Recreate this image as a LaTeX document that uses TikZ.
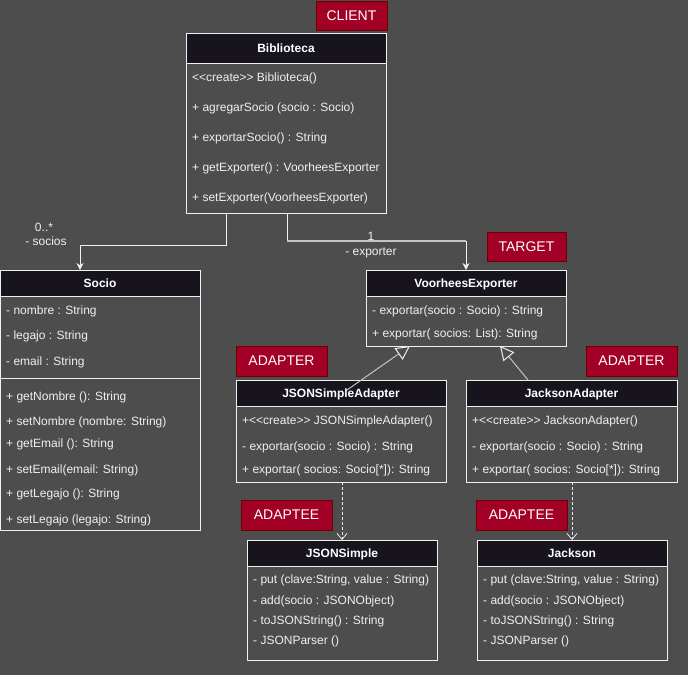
\documentclass[tikz,border=0pt]{standalone}
\usepackage{fontspec}
\setmainfont{Liberation Sans}
\usetikzlibrary{arrows.meta,calc}
\definecolor{bg}{HTML}{4D4D4D}
\definecolor{hdr}{HTML}{18141D}
\definecolor{tag}{HTML}{A20025}
\definecolor{tagb}{HTML}{6F0000}
\definecolor{txt}{HTML}{F0F0F0}
\definecolor{lgray}{HTML}{C4C4C4}
\newcommand\dlt{<\kern0pt<}
\newcommand\dgt{>\kern0pt>}
\tikzset{
  classbox/.style={draw=txt, line width=1pt, fill=bg, anchor=north west, inner sep=0pt, outer sep=0pt},
  hdrbox/.style={draw=txt, line width=1pt, fill=hdr, anchor=north west, inner sep=0pt, outer sep=0pt, text=white, font=\bfseries\fontsize{12}{14}\selectfont},
  mem/.style={anchor=west, text=txt, font=\fontsize{12}{14}\selectfont, inner sep=0pt, yshift=-1.5pt},
  lbl/.style={text=txt, font=\fontsize{12}{14}\selectfont, inner sep=0pt, yshift=-1.5pt},
  tagbox/.style={draw=tagb, fill=tag, text=white, font=\fontsize{14}{16}\selectfont, line width=1pt, anchor=north west, inner sep=0pt, outer sep=0pt, minimum width=91pt, minimum height=30pt},
  assoc/.style={draw=txt, line width=1pt, -{Stealth[length=7pt,width=7pt]}},
  inh/.style={draw=lgray, line width=1pt, -{Triangle[open,length=14pt,width=14pt,fill=bg,color=txt]}},
  dep/.style={draw=txt, line width=0.8pt, dashed, dash pattern=on 3pt off 2pt, -{Straight Barb[length=6pt,width=10pt,line width=0.8pt]}},
}
\begin{document}
\begin{tikzpicture}[x=1pt,y=-1pt]
\fill[bg] (0,0) rectangle (688,675);
\useasboundingbox (0,0) rectangle (688,675);

% Biblioteca
\node[classbox, minimum width=200pt, minimum height=180pt] (bib) at (186,33) {};
\node[hdrbox, minimum width=200pt, minimum height=30pt, text depth=0pt] (bibh) at (186,33) {Biblioteca};
\node[mem] (bib1) at (192,77) {\dlt create\dgt{} Biblioteca()};
\node[mem] (bib2) at (192,107) {+ agregarSocio (socio : Socio)};
\node[mem] (bib3) at (192,137) {+ exportarSocio() : String};
\node[mem] (bib4) at (192,167) {+ getExporter() : VoorheesExporter};
\node[mem] (bib5) at (192,197) {+ setExporter(VoorheesExporter)};

% Socio
\node[classbox, minimum width=200pt, minimum height=260pt] (socio) at (0,270) {};
\node[hdrbox, minimum width=200pt, minimum height=26pt, text depth=0pt] (socioh) at (0,270) {Socio};
\node[mem] (so1) at (6,310) {- nombre : String};
\node[mem] (so2) at (6,335) {- legajo : String};
\node[mem] (so3) at (6,361) {- email : String};
\draw[draw=txt, line width=1pt] ($(socio.north west)+(0,108)$) -- ($(socio.north east)+(0,108)$);
\node[mem] (so4) at (6,396) {+ getNombre (): String};
\node[mem] (so5) at (6,421) {+ setNombre (nombre: String)};
\node[mem] (so6) at (6,443) {+ getEmail (): String};
\node[mem] (so7) at (6,469) {+ setEmail(email: String)};
\node[mem] (so8) at (6,493) {+ getLegajo (): String};
\node[mem] (so9) at (6,519) {+ setLegajo (legajo: String)};

% VoorheesExporter
\node[classbox, minimum width=200pt, minimum height=76pt] (ve) at (366,270) {};
\node[hdrbox, minimum width=200pt, minimum height=26pt, text depth=0pt] (veh) at (366,270) {VoorheesExporter};
\node[mem] (ve1) at (372,310) {- exportar(socio : Socio) : String};
\node[mem] (ve2) at (372,333) {+ exportar( socios: List): String};

% JSONSimpleAdapter
\node[classbox, minimum width=210pt, minimum height=102pt] (jsa) at (236,380) {};
\node[hdrbox, minimum width=210pt, minimum height=26pt, text depth=0pt] (jsah) at (236,380) {JSONSimpleAdapter};
\node[mem] (jsa1) at (242,420) {+\dlt create\dgt{} JSONSimpleAdapter()};
\node[mem] (jsa2) at (242,446) {- exportar(socio : Socio) : String};
\node[mem] (jsa3) at (242,469) {+ exportar( socios: Socio[*]): String};

% JacksonAdapter
\node[classbox, minimum width=211pt, minimum height=102pt] (jka) at (466,380) {};
\node[hdrbox, minimum width=211pt, minimum height=26pt, text depth=0pt] (jkah) at (466,380) {JacksonAdapter};
\node[mem] (jka1) at (472,420) {+\dlt create\dgt{} JacksonAdapter()};
\node[mem] (jka2) at (472,446) {- exportar(socio : Socio) : String};
\node[mem] (jka3) at (472,469) {+ exportar( socios: Socio[*]): String};

% JSONSimple
\node[classbox, minimum width=190pt, minimum height=120pt] (js) at (247,540) {};
\node[hdrbox, minimum width=190pt, minimum height=26pt, text depth=0pt] (jsh) at (247,540) {JSONSimple};
\node[mem] (js1) at (253,579) {- put (clave:String, value : String)};
\node[mem] (js2) at (253,600) {- add(socio : JSONObject)};
\node[mem] (js3) at (253,620) {- toJSONString() : String};
\node[mem] (js4) at (253,640) {- JSONParser ()};

% Jackson
\node[classbox, minimum width=190pt, minimum height=120pt] (jk) at (477,540) {};
\node[hdrbox, minimum width=190pt, minimum height=26pt, text depth=0pt] (jkh) at (477,540) {Jackson};
\node[mem] (jk1) at (483,579) {- put (clave:String, value : String)};
\node[mem] (jk2) at (483,600) {- add(socio : JSONObject)};
\node[mem] (jk3) at (483,620) {- toJSONString() : String};
\node[mem] (jk4) at (483,640) {- JSONParser ()};

% tags
\node[tagbox, minimum width=71pt, minimum height=29pt] (tclient) at (316,1) {CLIENT};
\node[tagbox, minimum width=79pt, minimum height=29pt] (ttarget) at (487,232) {TARGET};
\node[tagbox] (tad1) at (236,346) {ADAPTER};
\node[tagbox] (tad2) at (586,346) {ADAPTER};
\node[tagbox] (tae1) at (241,500) {ADAPTEE};
\node[tagbox] (tae2) at (476,500) {ADAPTEE};

% association Biblioteca -> Socio
\coordinate (a0) at ($(bib.south west)+(40,0)$);
\draw[assoc] (a0) -- ++(0,32) -| ($(socio.north west)+(80,0)$);
\node[lbl] (m1) at (44,226) {0..*};
\node[lbl] (m2) at (46,240) {- socios};

% association Biblioteca -> VoorheesExporter
\coordinate (e0) at ($(bib.south west)+(101,0)$);
\coordinate (e1) at ($(e0)+(0,28)$);
\coordinate (e2) at ($(ve.north)+(0,-29)$);
\draw[draw=txt, line width=1pt] (e0) -- (e1);
\draw[draw=lgray, line width=1.5pt] (e1) -- (e2);
\draw[assoc] (e2) -- (ve.north);
\node[lbl] (m3) at (371,235) {1};
\node[lbl] (m4) at (371,251) {- exporter};

% realization / inheritance
\draw[inh] ($(jsa.north west)+(111,10)$) -- ($(ve.south west)+(44,0)$);
\draw[inh] ($(jka.north west)+(62,0)$) -- ($(ve.south west)+(134,0)$);

% dependencies
\draw[dep] ($(jsa.south west)+(106,0)$) -- ($(js.north west)+(95,0)$);
\draw[dep] ($(jka.south west)+(106,0)$) -- ($(jk.north west)+(95,0)$);
\end{tikzpicture}
\end{document}
